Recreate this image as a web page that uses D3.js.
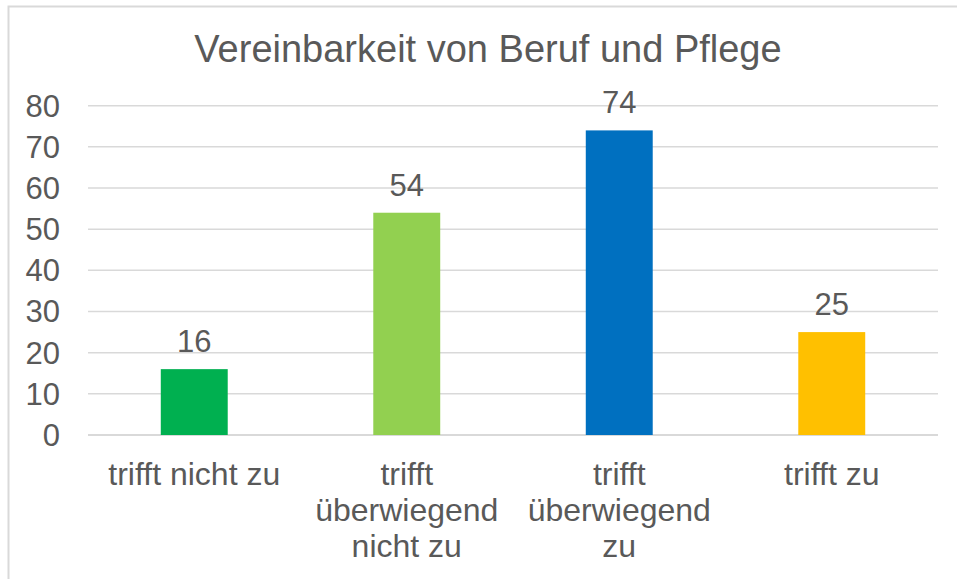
<!DOCTYPE html>
<html><head><meta charset="utf-8">
<script src="https://cdn.jsdelivr.net/npm/d3@7"></script>
<style>html,body{margin:0;padding:0;background:#fff;}svg{display:block;font-family:"Liberation Sans",Arial,sans-serif;}</style>
</head><body>
<script>
const title = "Vereinbarkeit von Beruf und Pflege";
const categories = ["trifft nicht zu", "trifft überwiegend nicht zu", "trifft überwiegend zu", "trifft zu"];
const categoryLines = [["trifft nicht zu"], ["trifft", "überwiegend", "nicht zu"], ["trifft", "überwiegend", "zu"], ["trifft zu"]];
const values = [16, 54, 74, 25];
const colors = ["#00B050", "#92D050", "#0070C0", "#FFC000"];
const yTicks = [0, 10, 20, 30, 40, 50, 60, 70, 80];

const W = 957, H = 579;
const svg = d3.select("body").append("svg").attr("width", W).attr("height", H);
const textColor = "#595959", gridColor = "#D9D9D9";

// chart border
svg.append("rect").attr("x", 8.5).attr("y", 6.5).attr("width", 1000).attr("height", 1000)
  .attr("fill", "none").attr("stroke", gridColor).attr("stroke-width", 2);

const x = d3.scaleBand().domain(categories).range([88, 938]).padding(0);
const y = d3.scaleLinear().domain([0, 80]).range([435, 105.7]);
const barW = x.bandwidth() * 0.315;

// grid
svg.append("g").selectAll("line").data(yTicks).join("line")
  .attr("x1", 88).attr("x2", 938)
  .attr("y1", d => y(d)).attr("y2", d => y(d))
  .attr("stroke", gridColor).attr("stroke-width", d => d === 0 ? 2 : 1.5);

// y tick labels
svg.append("g").selectAll("text").data(yTicks).join("text")
  .attr("x", 60).attr("y", d => y(d)).attr("dy", "0.35em")
  .attr("text-anchor", "end").attr("font-size", 31).attr("fill", textColor)
  .text(d => d);

// bars
svg.append("g").selectAll("rect").data(values).join("rect")
  .attr("x", (d, i) => x(categories[i]) + x.bandwidth() / 2 - barW / 2)
  .attr("width", barW)
  .attr("y", d => y(d)).attr("height", d => y(0) - y(d))
  .attr("fill", (d, i) => colors[i]);

// value labels
svg.append("g").selectAll("text").data(values).join("text")
  .attr("x", (d, i) => x(categories[i]) + x.bandwidth() / 2)
  .attr("y", d => y(d) - 17)
  .attr("text-anchor", "middle").attr("font-size", 31).attr("fill", textColor)
  .text(d => d);

// category labels
const cat = svg.append("g").selectAll("text").data(categories).join("text")
  .attr("text-anchor", "middle").attr("font-size", 32).attr("fill", textColor);
cat.each(function(d, i) {
  const t = d3.select(this);
  categoryLines[i].forEach((ln, j) => {
    t.append("tspan").attr("x", x(d) + x.bandwidth() / 2).attr("y", 485 + j * 36).text(ln);
  });
});

// title
svg.append("text").attr("x", 488).attr("y", 62).attr("text-anchor", "middle")
  .attr("font-size", 38).attr("fill", textColor).text(title);
</script>
</body></html>
